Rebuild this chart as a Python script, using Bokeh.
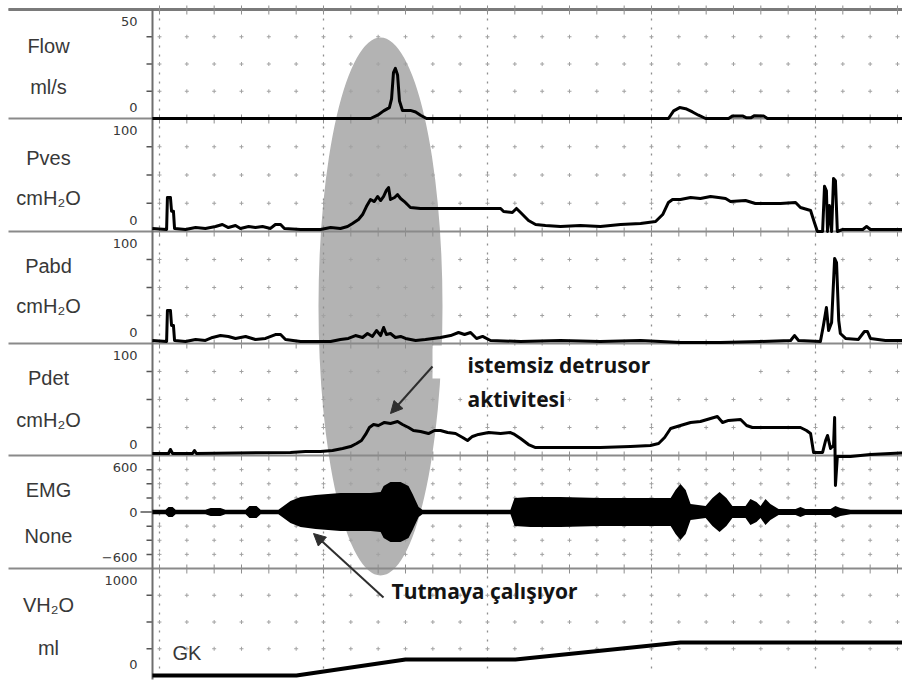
import numpy as np
from bokeh.plotting import figure
from bokeh.models import Range1d, Arrow, NormalHead
from bokeh.core.properties import value
from bokeh.embed import file_html
from bokeh.resources import INLINE

# ---------------- data (time in seconds) ----------------
flow_t = [-2.6, 77.2, 79.8, 82.0, 84.1, 84.9, 85.6, 86.3, 87.1, 87.8, 88.9, 91.8, 93.7, 95.5, 97.7,
          186.2, 188.1, 190.3, 192.5, 195.0, 197.2, 199.8, 208.2, 209.7, 213.3, 214.8, 216.3, 217.7,
          221.0, 222.4, 271.8]
flow_v = [0, 0, 1.5, 3.5, 5.0, 9, 21, 23, 20, 8, 3.7, 3.7, 3.0, 1.5, 0,
          0, 3.5, 5.0, 4.5, 3.0, 1.5, 0, 0, 1.2, 1.2, 0.3, 0.3, 1.3,
          1.2, 0, 0]

pves_t = [-2.6, 2.6, 2.9, 4.0, 4.4, 5.1, 5.5, 9.5, 13.2, 16.8, 20.5, 23.0, 25.2, 27.8, 29.6, 32.6,
          35.1, 37.7, 40.6, 42.4, 44.3, 45.7, 51.6, 58.9, 62.6, 66.2, 68.8, 70.6, 72.8, 74.3, 75.7,
          77.2, 78.6, 79.8, 80.9, 82.0, 83.0, 83.8, 84.5, 86.0, 87.1, 88.2, 89.6, 91.8, 95.5, 110.1,
          124.8, 125.9, 129.1, 130.6, 132.1, 135.0, 137.6, 141.2, 146.7, 154.0, 161.3, 168.7, 176.0,
          181.5, 184.1, 186.2, 187.7, 190.6, 194.3, 197.9, 201.6, 204.5, 207.1, 208.9, 214.4, 218.0,
          227.2, 232.7, 234.5, 238.2, 239.6, 240.7, 242.6, 243.3, 244.0, 244.4, 245.1, 245.9, 246.6,
          247.3, 248.0, 250.0, 257.3, 258.7, 260.1, 271.8]
pves_v = [2.7, 1.8, 30.1, 30.1, 18.0, 18.0, 2.7, 1.8, 3.5, 2.7, 4.4, 6.2, 3.5, 5.3, 2.7, 4.4,
          3.5, 4.4, 2.7, 6.2, 6.2, 2.7, 1.8, 1.8, 3.5, 2.7, 4.4, 7.1, 10.6, 15.0, 22.1,
          28.3, 26.5, 31.0, 27.4, 31.0, 36.3, 38.9, 28.3, 30.1, 32.7, 29.2, 26.5, 21.2, 20.4, 20.4,
          20.4, 17.7, 16.8, 20.4, 16.8, 9.7, 6.2, 5.3, 4.4, 5.3, 4.4, 6.2, 7.1,
          8.8, 15.0, 25.7, 28.3, 28.3, 30.1, 29.2, 31.0, 30.1, 29.2, 26.5, 27.4, 24.8,
          24.8, 25.7, 21.2, 18.6, 8.0, 0, 0, 40.0, 36.0, 0, 23.0, 0, 47.0,
          45.0, 0, 1.8, 1.8, 4.4, 1.8, 1.8]

pabd_t = [-2.6, 2.6, 2.9, 4.0, 4.4, 5.1, 5.5, 9.5, 13.2, 16.8, 19.4, 22.3, 25.2, 27.8, 31.5, 35.1,
          38.8, 42.4, 44.3, 46.1, 51.6, 62.6, 66.2, 69.1, 71.7, 74.3, 76.1, 77.9, 79.4, 80.9, 82.0,
          83.0, 84.5, 86.3, 88.2, 90.0, 93.7, 97.3, 102.8, 106.5, 109.4, 111.6, 113.8, 116.0, 118.2,
          121.1, 132.1, 146.7, 161.3, 176.0, 183.3, 190.6, 205.2, 219.9, 230.9, 232.3, 233.8, 241.8,
          242.9, 244.0, 244.8, 245.9, 247.0, 247.7, 248.5, 249.1, 251.0, 255.7, 257.9, 259.0, 260.1,
          265.6, 271.8]
pabd_v = [2.7, 1.8, 29.5, 29.5, 16.1, 16.1, 2.7, 1.8, 3.6, 2.7, 5.4, 7.1, 6.3, 4.5, 6.3, 3.6,
          4.5, 8.0, 8.0, 3.6, 1.8, 1.8, 3.6, 4.5, 7.1, 5.4, 8.9, 6.3, 11.6, 7.1, 14.3,
          8.0, 8.9, 5.4, 6.3, 4.5, 2.7, 3.6, 5.4, 7.1, 9.8, 8.0, 9.8, 4.5, 6.3,
          2.7, 1.8, 2.7, 1.8, 2.7, 1.8, 0.9, 0.9, 1.8, 2.7, 7.1, 2.7, 1.8,
          16.1, 32.1, 11.6, 18.8, 75.9, 72.3, 20.5, 8.9, 4.5, 3.6, 10.7, 10.7, 4.5,
          2.7, 2.7]

pdet_t = [-2.6, 3.3, 4.0, 4.8, 12.1, 12.8, 13.5, 47.9, 53.4, 58.9, 63.3, 67.0, 69.9, 72.1, 73.9,
          75.4, 76.8, 78.3, 80.1, 82.3, 84.5, 87.1, 88.9, 91.1, 92.9, 95.5, 98.4, 100.6, 102.8,
          105.4, 108.3, 110.9, 112.7, 114.5, 116.7, 120.4, 124.8, 128.4, 129.9, 132.1, 135.0, 137.6,
          146.7, 161.3, 172.3, 179.6, 182.6, 184.8, 187.0, 190.6, 194.3, 197.9, 201.6, 204.1, 206.0,
          208.2, 212.6, 214.8, 216.9, 225.4, 234.5, 236.7, 238.2, 239.3, 242.6, 243.7, 244.4, 245.5,
          246.6, 247.0, 247.3, 248.0, 252.8, 260.1, 271.1, 271.8]
pdet_v = [1.8, 1.8, 5.4, 1.8, 1.8, 4.5, 1.8, 2.7, 3.6, 3.6, 4.5, 6.3, 8.0, 10.7, 13.4,
          18.8, 25.0, 27.7, 26.8, 29.5, 28.6, 30.4, 27.7, 25.0, 22.3, 21.4, 19.6, 22.3, 22.3,
          20.5, 19.6, 16.1, 13.4, 17.0, 18.8, 20.5, 19.6, 20.5, 18.8, 15.2, 9.8, 7.1,
          7.1, 7.1, 8.0, 8.9, 10.7, 16.1, 24.1, 26.8, 29.5, 30.4, 33.0, 34.8, 29.5,
          31.3, 32.1, 26.8, 25.0, 25.0, 25.0, 22.3, 19.6, 2.7, 2.7, 13.4, 17.9, 6.3,
          8.9, 33.9, -26.8, -0.9, -0.9, 0.9, 2.2, 2.2]

emg_t = [-2.6, 2.2, 3.3, 4.8, 5.9, 16.8, 18.7, 22.3, 24.1, 31.5, 32.9, 35.5, 37.0, 43.5, 45.4,
         47.9, 51.6, 57.1, 66.2, 77.2, 80.9, 82.0, 84.5, 88.2, 91.1, 92.6, 94.8, 96.2, 128.4,
         129.9, 135.7, 146.7, 161.3, 176.0, 187.0, 188.8, 190.6, 192.5, 194.3, 199.8, 202.3,
         204.9, 207.4, 209.6, 214.4, 216.2, 218.4, 219.9, 221.7, 223.5, 226.5, 232.7, 234.5,
         236.3, 245.5, 247.3, 249.1, 252.8, 271.8]
emg_amp = [24, 24, 53, 53, 24, 24, 42, 42, 24, 24, 64, 64, 24, 24, 64,
           117, 159, 180, 202, 202, 212, 276, 318, 318, 276, 191, 53, 24, 24,
           149, 159, 159, 149, 149, 149, 234, 297, 234, 85, 64, 149,
           212, 149, 64, 64, 138, 106, 64, 138, 85, 32, 32, 53,
           32, 32, 64, 42, 24, 24]

vol_t = [-2.6, 50.1, 90.0, 130.2, 190.6, 271.8]
vol_v = [0, 0, 150, 150, 308, 308]

channel_names = ["Flow", "Pves", "Pabd", "Pdet", "EMG", "VH₂O"]
channel_units = ["ml/s", "cmH₂O", "cmH₂O", "cmH₂O", "None", "ml"]
scale_lo = [0, 0, 0, 0, -600, 0]
scale_hi = [50, 100, 100, 100, 600, 1000]
tick_top = ["50", "100", "100", "100", "600", "1000"]
tick_bottom = ["0", "0", "0", "0", "−600", "0"]
emg_zero_label = "0"
grid_levels = [[12.5, 25, 37.5], [25, 50, 75], [25, 50, 75], [25, 50, 75],
               [-450, -300, -150, 150, 300, 450], [250, 500, 750]]
minor_t = list(range(0, 280, 10))
major_t = [0, 60, 120, 180, 240]

# ---------------- layout ----------------
W, H = 902, 685
AXIS_PX = 152
T0_PX = 159
PX_PER_S = 2.7333
bands = [(9, 118), (118, 231), (231, 343), (343, 455), (455, 568), (568, 675)]
keys = ["flow", "pves", "pabd", "pdet", "emg", "vol"]

p = figure(width=W, height=H,
           x_range=Range1d(-T0_PX / PX_PER_S, (W - T0_PX) / PX_PER_S),
           y_range=Range1d(H, 0),
           x_axis_type=None, y_axis_type=None, toolbar_location=None,
           output_backend="svg", min_border=0, outline_line_color=None)
p.background_fill_color = "white"
p.border_fill_color = "white"
p.extra_x_ranges = {"px": Range1d(0, W)}
extra = {}
for k, (top, bot), lo, hi in zip(keys, bands, scale_lo, scale_hi):
    s = (hi - lo) / (bot - top)
    extra[k] = Range1d(lo + (bot - H) * s, lo + bot * s)
p.extra_y_ranges = extra

GRID = "#a2a2a2"
INK = "#383838"

# highlight ellipse
p.ellipse(x=[380], y=[306], width=124, height=538, width_units="screen", height_units="screen",
          x_range_name="px", fill_color="#b3b3b3", line_color=None)

# dotted major verticals
p.segment(x0=major_t, x1=major_t, y0=[9] * len(major_t), y1=[675] * len(major_t),
          line_color="#8e8e8e", line_width=1.3, line_dash="2 7")

# grid crosses
for k, lv in zip(keys, grid_levels):
    xs = np.repeat(minor_t, len(lv))
    ys = np.tile(lv, len(minor_t))
    p.scatter(x=xs, y=ys, marker="cross", size=4, line_color=GRID, line_width=1,
              y_range_name=k)
    # ticks on the left axis
    p.segment(x0=[146] * len(lv), x1=[AXIS_PX] * len(lv), y0=lv, y1=lv,
              x_range_name="px", y_range_name=k, line_color="#555555", line_width=1.5)

p.segment(x0=[140], x1=[AXIS_PX], y0=[0], y1=[0], x_range_name="px", y_range_name="emg",
          line_color="#555555", line_width=1.5)

# separators
seps = [b[0] for b in bands]
p.segment(x0=[8] * len(seps), x1=[W] * len(seps), y0=seps, y1=seps, x_range_name="px",
          line_color="#8a8a8a", line_width=2)
p.segment(x0=[8], x1=[W], y0=[9], y1=[9], x_range_name="px", line_color="#7a7a7a", line_width=3)
for yb in seps:
    p.segment(x0=minor_t, x1=minor_t, y0=[yb - 4] * len(minor_t), y1=[yb + 5] * len(minor_t),
              line_color="#8e8e8e", line_width=1)
# vertical axis
p.segment(x0=[AXIS_PX], x1=[AXIS_PX], y0=[9], y1=[679], x_range_name="px",
          line_color="#6e6e6e", line_width=2)

# traces
LW = dict(line_color="black", line_width=3, line_join="round")
p.line(flow_t, flow_v, y_range_name="flow", **LW)
p.line(pves_t, pves_v, y_range_name="pves", **LW)
p.line(pabd_t, pabd_v, y_range_name="pabd", **LW)
p.line(pdet_t, pdet_v, y_range_name="pdet", **LW)
amp = np.array(emg_amp, dtype=float)
p.varea(x=emg_t, y1=-amp, y2=amp, y_range_name="emg", fill_color="black")
p.line(vol_t, vol_v, y_range_name="vol", line_color="black", line_width=4)

# channel labels
LABEL_X = 48
name_y = [45, 157, 265, 377, 489, 604]
unit_y = [86, 197, 305, 419, 535, 647]
LB = dict(x_range_name="px", text_font=value("Liberation Sans"), text_font_size="20px",
          text_color=INK, text_align="center", text_baseline="middle")
p.text(x=[LABEL_X] * 6, y=name_y, text=channel_names, **LB)
p.text(x=[LABEL_X] * 6, y=unit_y, text=channel_units, **LB)

# scale labels
top_y = [b[0] + 12 for b in bands]
bot_y = [b[1] - 11 for b in bands]
TK = dict(x_range_name="px", text_font=value("DejaVu Sans"), text_font_size="13px",
          text_color=INK, text_align="right", text_baseline="middle")
p.text(x=[137] * 6, y=top_y, text=tick_top, **TK)
p.text(x=[137] * 6, y=bot_y, text=tick_bottom, **TK)
p.text(x=[137], y=[0], text=[emg_zero_label], y_range_name="emg", **TK)

p.text(x=[172], y=[652], text=["GK"], x_range_name="px", text_font=value("Liberation Sans"),
       text_font_size="20px", text_color=INK, text_align="left", text_baseline="middle")

# annotation box and texts
p.quad(left=[432], right=[752], top=[345], bottom=[378], x_range_name="px",
       fill_color="white", line_color=None)
ANN = dict(x_range_name="px", text_font=value("Open Sans"), text_font_style="bold",
           text_font_size="21px", text_color="#141414", text_align="left", text_baseline="middle")
p.text(x=[467], y=[364], text=["istemsiz detrusor"], **ANN)
p.text(x=[467], y=[398], text=["aktivitesi"], **ANN)
p.text(x=[391], y=[590], text=["Tutmaya çalışıyor"], **ANN)

AC = "#2e2e2e"
p.add_layout(Arrow(end=NormalHead(size=12, fill_color=AC, line_color=AC),
                   x_start=432, y_start=366, x_end=390, y_end=413, x_range_name="px",
                   line_color=AC, line_width=2))
p.add_layout(Arrow(end=NormalHead(size=12, fill_color=AC, line_color=AC),
                   x_start=383, y_start=597, x_end=313, y_end=533, x_range_name="px",
                   line_color=AC, line_width=2))

open("out.html", "w").write(file_html(p, INLINE))
